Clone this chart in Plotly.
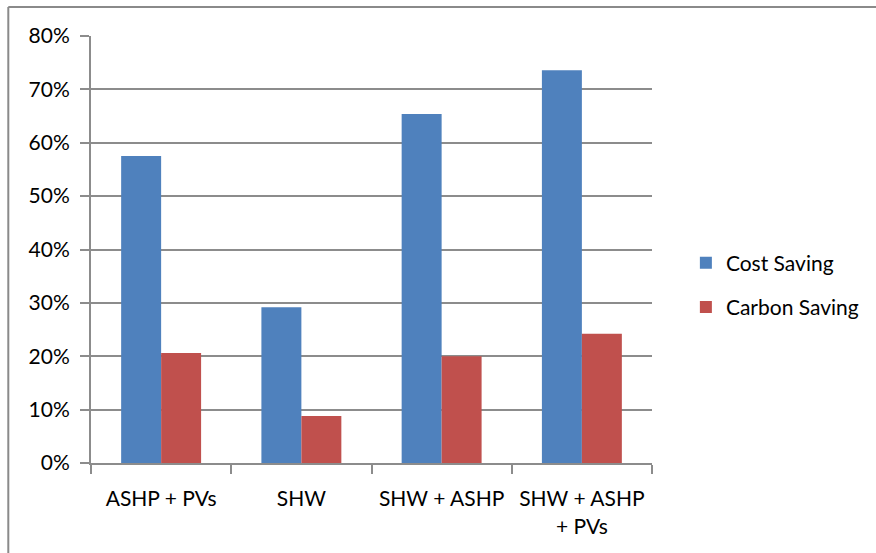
import plotly.graph_objects as go

# Savings by technology combination
categories = ["ASHP + PVs", "SHW", "SHW + ASHP", "SHW + ASHP<br>+ PVs"]
cost_saving = [0.575, 0.292, 0.654, 0.736]
carbon_saving = [0.206, 0.088, 0.200, 0.242]

BLUE = "#4F81BD"
RED = "#C0504D"
GRID = "#8C8C8C"
FONT = "Lato, Open Sans, sans-serif"

fig = go.Figure()
fig.add_trace(go.Bar(x=categories, y=cost_saving, name="Cost Saving",
                     marker=dict(color=BLUE, line=dict(width=0)),
                     legendgroup="a"))
fig.add_trace(go.Bar(x=categories, y=carbon_saving, name="Carbon Saving",
                     marker=dict(color=RED, line=dict(width=0)),
                     legendgroup="b"))

W, H = 876, 553
L, R, T, B = 91, 222, 36, 90
pw, ph = W - L - R, H - T - B

def px_x(p):
    return (p - L) / pw

def px_y(p):
    return (H - B - p) / ph

fig.update_layout(
    width=W, height=H,
    margin=dict(l=L, r=R, t=T, b=B, pad=0),
    paper_bgcolor="white", plot_bgcolor="white",
    barmode="group", bargap=0.43, bargroupgap=0,
    font=dict(family=FONT, size=21, color="#000000"),
    showlegend=True,
    legend=dict(x=px_x(688), y=px_y(285), xanchor="left", yanchor="middle",
                font=dict(size=21), tracegroupgap=14,
                bgcolor="rgba(0,0,0,0)"),
    xaxis=dict(showline=True, linecolor=GRID, linewidth=2,
               ticks="outside", ticklen=9, tickwidth=2, tickcolor=GRID,
               tickson="boundaries", showgrid=False, ticklabelstandoff=16),
    yaxis=dict(range=[0, 0.8], dtick=0.1, tickformat=".0%",
               showline=True, linecolor=GRID, linewidth=2,
               ticks="outside", ticklen=9, tickwidth=2, tickcolor=GRID,
               showgrid=True, gridcolor=GRID, gridwidth=2, zeroline=False,
               ticklabelstandoff=6),
    shapes=[
        dict(type="line", xref="paper", yref="paper",
             x0=px_x(8), x1=px_x(8), y0=px_y(7), y1=px_y(560),
             line=dict(color="#8A8A8A", width=2)),
        dict(type="line", xref="paper", yref="paper",
             x0=px_x(8), x1=px_x(880), y0=px_y(7), y1=px_y(7),
             line=dict(color="#8A8A8A", width=2)),
    ],
)

fig.write_html("out.html")
